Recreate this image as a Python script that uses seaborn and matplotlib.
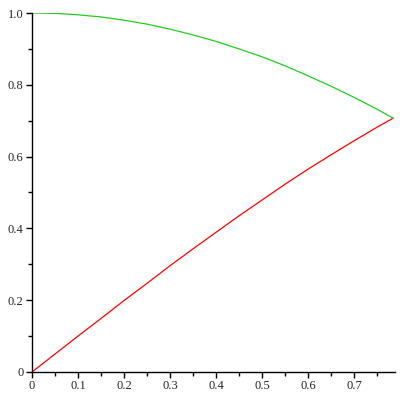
import numpy as np
import pandas as pd
import matplotlib
matplotlib.use("Agg")
import matplotlib.pyplot as plt
import seaborn as sns
from matplotlib.ticker import MultipleLocator, FixedFormatter, FixedLocator

# valores
x_vals = [0, 0.05, 0.1, 0.15, 0.2, 0.25, 0.3, 0.35, 0.4, 0.45,
          0.5, 0.55, 0.6, 0.65, 0.7, 0.75, 0.785]
y_rojo = [0, 0.050, 0.100, 0.149, 0.199, 0.247, 0.296, 0.343, 0.389, 0.435,
          0.479, 0.523, 0.565, 0.605, 0.644, 0.682, 0.707]
y_verde = [1.0, 0.999, 0.995, 0.989, 0.980, 0.969, 0.955, 0.939, 0.921, 0.900,
           0.878, 0.853, 0.825, 0.796, 0.765, 0.732, 0.707]

x_ticks = [0, 0.1, 0.2, 0.3, 0.4, 0.5, 0.6, 0.7]
x_labels = ["0", "0.1", "0.2", "0.3", "0.4", "0.5", "0.6", "0.7"]
y_ticks = [0, 0.2, 0.4, 0.6, 0.8, 1.0]
y_labels = ["0", "0.2", "0.4", "0.6", "0.8", "1.0"]

df = pd.DataFrame({"x": x_vals, "rojo": y_rojo, "verde": y_verde})

sns.set_style("white")
plt.rcParams["font.family"] = ["Liberation Serif", "DejaVu Serif"]

fig = plt.figure(figsize=(4, 4), dpi=100)
ax = fig.add_axes([0.08, 0.07, 0.9075, 0.8975])

sns.lineplot(data=df, x="x", y="rojo", color="#ff0000", lw=0.9, ax=ax)
sns.lineplot(data=df, x="x", y="verde", color="#22cc22", lw=0.9, ax=ax)

ax.set_xlim(0, 0.789)
ax.set_ylim(0, 1.0)
ax.set_xlabel("")
ax.set_ylabel("")

for s in ["top", "right"]:
    ax.spines[s].set_visible(False)
for s in ["left", "bottom"]:
    ax.spines[s].set_color("black")
    ax.spines[s].set_linewidth(1)

ax.xaxis.set_major_locator(FixedLocator(x_ticks))
ax.xaxis.set_major_formatter(FixedFormatter(x_labels))
ax.xaxis.set_minor_locator(MultipleLocator(0.05))
ax.yaxis.set_major_locator(FixedLocator(y_ticks))
ax.yaxis.set_major_formatter(FixedFormatter(y_labels))
ax.yaxis.set_minor_locator(MultipleLocator(0.1))

ax.tick_params(which="both", direction="out", color="black", width=1,
               labelsize=9, pad=2, bottom=True, left=True)
ax.tick_params(which="major", length=4)
ax.tick_params(which="minor", length=3)

fig.savefig("out.png", dpi=100)
